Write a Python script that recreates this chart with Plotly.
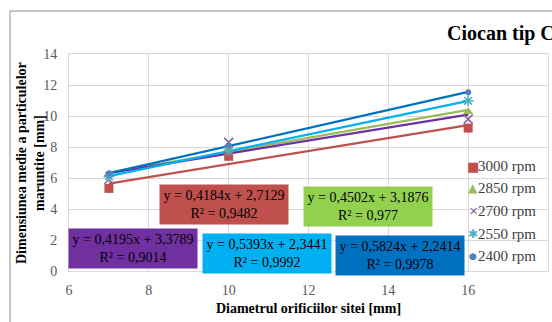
import plotly.graph_objects as go

# Sieve hole diameter [mm]
diameters = [7, 10, 16]

# Mean particle size [mm] per rotor speed
series_names = ["3000 rpm", "2850 rpm", "2700 rpm", "2550 rpm", "2400 rpm"]
size_3000 = [5.33, 7.40, 9.22]
size_2850 = [6.20, 7.95, 10.27]
size_2700 = [5.90, 8.30, 9.80]
size_2550 = [6.10, 7.75, 10.98]
size_2400 = [6.30, 8.10, 11.54]

# Linear trendline coefficients (slope, intercept) and R²
slopes = [0.4184, 0.4502, 0.4195, 0.5393, 0.5824]
intercepts = [2.7129, 3.1876, 3.3789, 2.3441, 2.2414]
r_squared = ["0,9482", "0,977", "0,9014", "0,9992", "0,9978"]

x_ticks = [6, 8, 10, 12, 14, 16, 18]
y_ticks = [0, 2, 4, 6, 8, 10, 12, 14]

series_values = [size_3000, size_2850, size_2700, size_2550, size_2400]
marker_colors = ["#C0504D", "#9BBB59", "#8064A2", "#4BACC6", "#4F81BD"]
marker_symbols = ["square", "triangle-up", "x-thin", "asterisk", "circle"]
marker_sizes = [9, 9, 9, 9, 6]
legend_glyphs = ["■", "▲", "✕", "✱", "●"]
legend_glyph_sizes = [13, 12, 11, 12, 9]
line_colors = ["#C0504D", "#9BBB59", "#7030A0", "#00B0F0", "#0070C0"]
box_colors = ["#C0504D", "#92D050", "#7030A0", "#00B0F0", "#0070C0"]
# equation box centres in data coordinates
box_pos = [(9.88, 4.26), (13.5, 4.13), (7.6, 1.42), (10.95, 1.10), (14.3, 1.03)]

serif = "Liberation Serif"
fig = go.Figure()

# trendlines first so the markers sit on top
for i in range(5):
    x0, x1 = diameters[0], diameters[-1]
    fig.add_trace(go.Scatter(
        x=[x0, x1],
        y=[slopes[i] * x0 + intercepts[i], slopes[i] * x1 + intercepts[i]],
        mode="lines", line=dict(color=line_colors[i], width=2.2),
        showlegend=False, hoverinfo="skip"))

for i in range(5):
    sym = marker_symbols[i]
    mk = dict(color=marker_colors[i], size=marker_sizes[i], symbol=sym)
    if sym in ("x-thin", "asterisk"):
        mk["line"] = dict(color=marker_colors[i], width=1.5)
    fig.add_trace(go.Scatter(
        x=diameters, y=series_values[i], mode="markers",
        name=series_names[i], marker=mk, showlegend=False))

# trendline equation boxes
for i in range(5):
    eq = f"y = {slopes[i]:.4f}x + {intercepts[i]:.4f}".replace(".", ",")
    fig.add_annotation(
        x=box_pos[i][0], y=box_pos[i][1], xref="x", yref="y",
        text=f"{eq}<br>R² = {r_squared[i]}", showarrow=False,
        bgcolor=box_colors[i], borderpad=3, width=122,
        font=dict(family=serif, size=14, color="#000000"))

# legend drawn as text: coloured glyph + series name
for i in range(5):
    ly = (271 - (166 + 22.5 * i)) / 217
    fig.add_annotation(
        x=(473 - 69) / 479, y=ly, xref="paper", yref="paper",
        text=legend_glyphs[i], showarrow=False, xanchor="center",
        yanchor="middle",
        font=dict(family="DejaVu Sans", size=legend_glyph_sizes[i],
                  color=marker_colors[i]))
    fig.add_annotation(
        x=(478 - 69) / 479, y=ly, xref="paper", yref="paper",
        text=series_names[i], showarrow=False, xanchor="left",
        yanchor="middle", xshift=-2,
        font=dict(family=serif, size=15, color="#404040"))

# chart title
fig.add_annotation(
    x=(445 - 69) / 479, y=(271 - 33) / 217, xref="paper", yref="paper",
    text="<b>Ciocan tip C</b>", showarrow=False, xanchor="left",
    yanchor="middle", font=dict(family=serif, size=20, color="#000000"))

# y axis title on two lines
fig.add_annotation(
    x=(30 - 69) / 479, y=(271 - 163) / 217, xref="paper", yref="paper",
    text="<b>Dimensiunea medie a particulelor<br>maruntite [mm]</b>",
    textangle=-90, showarrow=False, xanchor="center", yanchor="middle",
    font=dict(family=serif, size=14, color="#000000"))

# chart area border
fig.add_shape(
    type="rect", xref="paper", yref="paper",
    x0=(10 - 69) / 479, x1=1.3, y0=-0.6, y1=(271 - 11) / 217,
    line=dict(color="#8C8C8C", width=1), fillcolor="rgba(0,0,0,0)")

fig.update_layout(
    width=552, height=322,
    margin=dict(l=69, r=4, t=54, b=51),
    paper_bgcolor="white", plot_bgcolor="white",
    font=dict(family=serif, color="#595959", size=14),
    showlegend=False,
    xaxis=dict(range=[6, 18], tickvals=x_ticks, showgrid=True,
               gridcolor="#D9D9D9", showline=True, mirror=True,
               linecolor="#D9D9D9", zeroline=False, ticklabelstandoff=6,
               tickfont=dict(family=serif, size=14, color="#595959"),
               title=dict(text="<b>Diametrul orificiilor sitei [mm]</b>",
                          font=dict(family=serif, size=14, color="#000000"),
                          standoff=6)),
    yaxis=dict(range=[0, 14], tickvals=y_ticks, showgrid=True,
               gridcolor="#D9D9D9", showline=True, mirror=True,
               linecolor="#D9D9D9", zeroline=False, ticklabelstandoff=8,
               tickfont=dict(family=serif, size=14, color="#595959")),
)

fig.write_html("out.html")
